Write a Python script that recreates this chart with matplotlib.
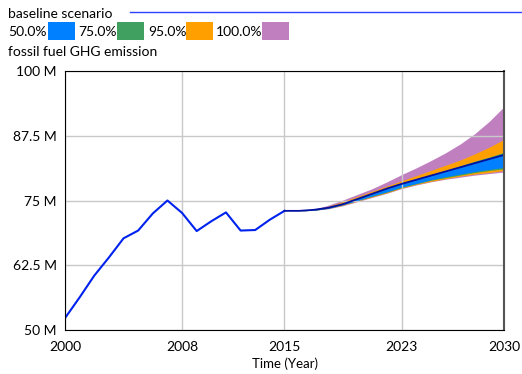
import matplotlib.pyplot as plt
from matplotlib.patches import Rectangle
from matplotlib.lines import Line2D

plt.rcParams['font.family'] = ['Lato', 'DejaVu Sans']

# historical baseline
hist_years = list(range(2000, 2016))
hist_vals = [52.3, 56.3, 60.5, 64.0, 67.7, 69.2, 72.5, 75.0,
             72.6, 69.1, 71.0, 72.7, 69.2, 69.3, 71.3, 73.0]

# forecast (sensitivity) years
fc_years = list(range(2015, 2031))
median = [73.0, 73.0, 73.2, 73.6, 74.3, 75.3, 76.3, 77.3, 78.2, 79.0, 79.8, 80.6, 81.4, 82.2, 83.0, 83.8]
p100_hi = [73.0, 73.0, 73.3, 74.1, 75.1, 76.2, 77.3, 78.6, 80.0, 81.3, 82.7, 84.2, 85.9, 87.9, 90.3, 93.1]
p100_lo = [73.0, 73.0, 73.1, 73.4, 74.0, 74.8, 75.6, 76.4, 77.3, 78.0, 78.6, 79.1, 79.5, 79.9, 80.2, 80.5]
p95_hi = [73.0, 73.0, 73.2, 73.9, 74.8, 75.8, 76.8, 77.8, 78.8, 79.8, 80.8, 81.8, 82.8, 84.0, 85.3, 86.8]
p95_lo = [73.0, 73.0, 73.1, 73.5, 74.1, 74.9, 75.7, 76.5, 77.4, 78.1, 78.7, 79.2, 79.7, 80.1, 80.4, 80.8]
p75_hi = [73.0, 73.0, 73.2, 73.7, 74.4, 75.4, 76.4, 77.4, 78.3, 79.2, 80.0, 80.8, 81.7, 82.6, 83.4, 84.3]
p75_lo = [73.0, 73.0, 73.1, 73.5, 74.2, 75.0, 75.8, 76.6, 77.5, 78.2, 78.9, 79.4, 79.9, 80.4, 80.8, 81.1]
p50_hi = [73.0, 73.0, 73.2, 73.6, 74.3, 75.3, 76.3, 77.3, 78.2, 79.1, 79.9, 80.7, 81.5, 82.4, 83.2, 84.0]
p50_lo = [73.0, 73.0, 73.1, 73.5, 74.2, 75.0, 75.9, 76.7, 77.6, 78.3, 79.0, 79.6, 80.1, 80.6, 81.0, 81.4]

band_labels = ['50.0%', '75.0%', '95.0%', '100.0%']
band_colors = ['#0080ff', '#40a060', '#ffa000', '#c080c0']

xticks = [2000, 2008, 2015, 2023, 2030]
yticks = [50, 62.5, 75, 87.5, 100]
ytick_labels = ['50 M', '62.5 M', '75 M', '87.5 M', '100 M']

fig = plt.figure(figsize=(5.22, 3.74), dpi=100)
ax = fig.add_axes([65 / 522, 44 / 374, 439 / 522, 259 / 374])

ax.fill_between(fc_years, p100_lo, p100_hi, color=band_colors[3], lw=0)
ax.fill_between(fc_years, p95_lo, p95_hi, color=band_colors[2], lw=0)
ax.fill_between(fc_years, p75_lo, p75_hi, color=band_colors[1], lw=0)
ax.fill_between(fc_years, p50_lo, p50_hi, color=band_colors[0], lw=0)
ax.plot(hist_years, hist_vals, color='#0022ee', lw=1.5)
ax.plot(fc_years, median, color='#0010a0', lw=1.3)

ax.set_xlim(2000, 2030)
ax.set_ylim(50, 100)
ax.set_xticks(xticks)
ax.set_yticks(yticks)
ax.set_yticklabels(ytick_labels)
ax.tick_params(length=0, labelsize=10, colors='black')
ax.tick_params(axis='x', pad=8)
ax.tick_params(axis='y', pad=6)
ax.grid(True, color='#c8c8c8', lw=1)
ax.set_xlabel('Time (Year)', fontsize=9.5, labelpad=3)
for s in ['left', 'bottom', 'top']:
    ax.spines[s].set_color('black')
ax.spines['right'].set_color('#555555')
ax.spines['right'].set_linewidth(1.5)

# header legend
fig.text(8 / 522, 1 - 14 / 374, 'baseline scenario', fontsize=10, va='center')
fig.add_artist(Line2D([130 / 522, 1.0], [1 - 12 / 374, 1 - 12 / 374], color='#3040ff', lw=1))
lab_x = [8, 78, 148, 216]
patch_x = [48, 117, 186, 262]
for lx, px, lab, col in zip(lab_x, patch_x, band_labels, band_colors):
    fig.text(lx / 522, 1 - 32 / 374, lab, fontsize=10, va='center')
    fig.add_artist(Rectangle((px / 522, 1 - 40 / 374), 27 / 522, 18 / 374,
                             transform=fig.transFigure, color=col, lw=0))
fig.text(8 / 522, 1 - 52 / 374, 'fossil fuel GHG emission', fontsize=10, va='center')

fig.savefig('out.png', dpi=100)
